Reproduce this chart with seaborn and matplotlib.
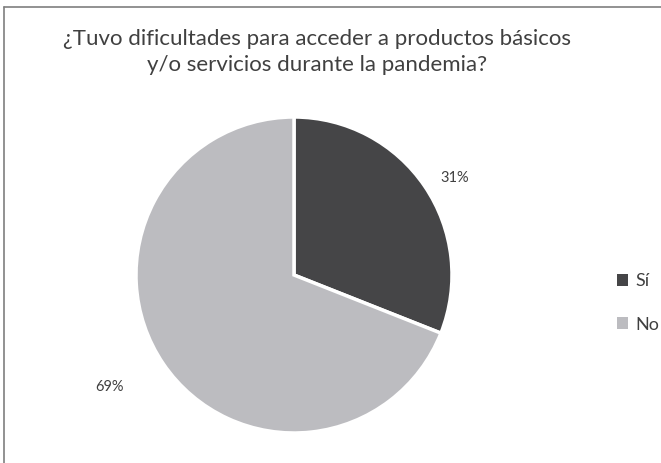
import numpy as np
import matplotlib
matplotlib.use("Agg")
import matplotlib.pyplot as plt
import seaborn as sns
from matplotlib.patches import Patch
from matplotlib.lines import Line2D

categories = ["Sí", "No"]
values = [31, 69]
colors = ["#454547", "#bcbcc0"]
title = "¿Tuvo dificultades para acceder a productos básicos\ny/o servicios durante la pandemia?"

sns.set_theme(style="white")
plt.rcParams["font.family"] = ["Lato", "DejaVu Sans"]

W, H = 661, 463
fig = plt.figure(figsize=(W / 100, H / 100), dpi=100)
fig.patch.set_facecolor("white")

# frame around the chart area (left and top edges visible)
fig.add_artist(Line2D([3.5 / W, 3.5 / W], [0, 1 - 6.5 / H], transform=fig.transFigure,
                      color="#7f7f7f", lw=1.2))
fig.add_artist(Line2D([3.5 / W, 1], [1 - 6.5 / H, 1 - 6.5 / H], transform=fig.transFigure,
                      color="#7f7f7f", lw=1.2))

cx, cy, r = 294, 275, 158
ax = fig.add_axes([(cx - r) / W, 1 - (cy + r) / H, 2 * r / W, 2 * r / H])
wedges, _ = ax.pie(values, colors=colors, startangle=90, counterclock=False,
                   wedgeprops=dict(edgecolor="white", linewidth=2.5), radius=1)
ax.set_xlim(-1, 1)
ax.set_ylim(-1, 1)
ax.set_aspect("equal")
ax.axis("off")

# percentage labels placed outside each wedge
label_dist = [1.19, 1.365]
for w, v, d in zip(wedges, values, label_dist):
    ang = np.deg2rad((w.theta1 + w.theta2) / 2 - 3)
    ax.text(d * np.cos(ang), d * np.sin(ang), f"{v}%", ha="center", va="center",
            fontsize=10.5, color="#404040")

fig.text(317 / W, 1 - 52 / H, title, ha="center", va="center",
         fontsize=16, color="#404040", linespacing=1.4)

handles = [Patch(facecolor=c, edgecolor="none") for c in colors]
fig.legend(handles, categories, loc="center left", bbox_to_anchor=(617 / W, 1 - 303 / H),
           frameon=False, fontsize=13, handlelength=0.6, handleheight=0.6,
           handletextpad=0.4, labelspacing=1.5, labelcolor="#404040",
           borderpad=0, borderaxespad=0)

fig.savefig("out.png", dpi=100)
